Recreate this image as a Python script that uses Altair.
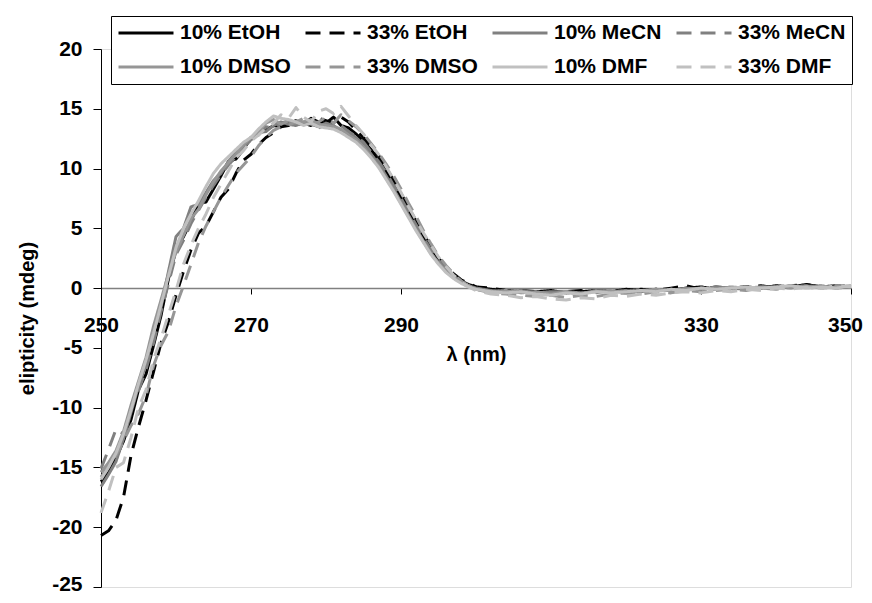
import altair as alt
import pandas as pd

# wavelengths: 1 nm steps 250-300, then 2 nm steps 302-350
wl = list(range(250, 301)) + list(range(302, 351, 2))

series_names = ["10% EtOH", "33% EtOH", "10% MeCN", "33% MeCN",
                "10% DMSO", "33% DMSO", "10% DMF", "33% DMF"]
series_colors = ["#000000", "#000000", "#808080", "#808080",
                 "#969696", "#969696", "#c0c0c0", "#c0c0c0"]
series_dash = [[1, 0], [15, 9], [1, 0], [15, 9], [1, 0], [15, 9], [1, 0], [15, 9]]

etoh10 = [-16.2, -15.4, -14.2, -12.8, -11.0, -8.5, -7.2, -4.8, -2.3, 0.8,
          3.2, 4.3, 5.6, 7.1, 7.2, 8.3, 9.4, 10.6, 10.8, 11.6,
          12.6, 13.0, 13.2, 13.6, 13.5, 13.8, 14.0, 13.7, 14.2, 13.9,
          13.8, 14.3, 13.6, 13.4, 12.9, 12.3, 11.6, 10.7, 9.8, 8.7,
          7.6, 6.4, 5.3, 4.2, 3.2, 2.3, 1.6, 1.0, 0.6, 0.3, 0.1,
          -0.1, -0.2, -0.3, -0.3, -0.2, -0.4, -0.3, -0.2, -0.3, -0.1,
          -0.2, -0.1, -0.2, 0.0, 0.1, -0.1, 0.0, 0.1, 0.0, 0.2,
          0.1, 0.3, 0.1, 0.2, 0.1]
etoh33 = [-20.7, -20.3, -19.4, -17.5, -14.0, -11.6, -9.4, -7.0, -4.6, -2.8,
          -0.6, 1.4, 3.2, 4.6, 5.2, 6.4, 7.6, 8.3, 9.6, 10.7,
          11.2, 12.0, 12.6, 13.0, 13.5, 13.6, 14.1, 13.8, 13.6, 14.2,
          14.0, 13.8, 14.3, 13.9, 13.2, 12.6, 11.9, 11.1, 10.1, 9.0,
          7.9, 6.8, 5.6, 4.5, 3.5, 2.5, 1.8, 1.2, 0.7, 0.4, 0.1,
          0.0, -0.2, -0.2, -0.3, -0.4, -0.3, -0.2, -0.3, -0.2, -0.2,
          -0.1, -0.2, 0.0, 0.2, -0.1, 0.1, 0.0, 0.1, 0.2, 0.0,
          0.2, 0.3, 0.1, 0.1, 0.2]
mecn10 = [-16.6, -15.6, -14.5, -12.6, -10.4, -8.2, -6.4, -3.5, -1.6, 1.4,
          4.3, 5.0, 6.8, 7.0, 8.0, 9.0, 9.6, 10.6, 11.4, 11.8,
          12.4, 13.0, 13.1, 13.6, 13.9, 13.7, 13.6, 13.9, 13.7, 13.5,
          13.8, 13.6, 13.2, 13.0, 12.6, 12.0, 11.2, 10.4, 9.4, 8.3,
          7.2, 6.1, 5.0, 3.9, 2.9, 2.1, 1.4, 0.9, 0.5, 0.2, 0.0,
          -0.2, -0.3, -0.2, -0.4, -0.3, -0.3, -0.5, -0.2, -0.3, -0.2,
          -0.3, -0.1, -0.2, 0.0, -0.1, 0.1, 0.0, -0.1, 0.1, 0.0,
          0.2, 0.1, 0.2, 0.0, 0.1]
mecn33 = [-15.1, -13.5, -11.8, -12.2, -10.0, -8.6, -6.8, -4.6, -2.0, 0.4,
          2.8, 4.0, 5.4, 6.5, 7.6, 8.6, 9.5, 10.3, 11.0, 11.8,
          12.4, 12.8, 13.5, 13.4, 13.8, 14.0, 13.6, 13.8, 14.0, 13.4,
          13.7, 13.5, 13.6, 13.1, 12.7, 12.2, 11.4, 10.6, 9.7, 8.6,
          7.5, 6.4, 5.3, 4.2, 3.2, 2.3, 1.6, 1.0, 0.6, 0.2, 0.0,
          -0.3, -0.4, -0.3, -0.5, -0.4, -0.3, -0.5, -0.4, -0.2, -0.3,
          -0.2, -0.3, -0.1, -0.2, 0.0, -0.1, 0.1, 0.0, 0.1, 0.1,
          0.0, 0.2, 0.1, 0.2, 0.1]
dmso10 = [-15.4, -14.6, -13.6, -12.0, -9.8, -7.8, -5.8, -3.2, -1.0, 1.2,
          3.0, 4.4, 5.8, 6.6, 7.8, 8.9, 9.8, 10.5, 11.2, 12.0,
          12.6, 13.1, 13.8, 14.1, 13.7, 14.0, 13.8, 13.9, 14.1, 13.7,
          13.6, 13.5, 13.3, 12.8, 12.4, 11.8, 11.0, 10.2, 9.2, 8.2,
          7.1, 6.0, 4.9, 3.9, 2.9, 2.1, 1.4, 0.9, 0.5, 0.2, -0.1,
          -0.3, -0.2, -0.4, -0.3, -0.5, -0.3, -0.4, -0.3, -0.2, -0.4,
          -0.2, -0.1, -0.2, -0.1, 0.0, -0.1, 0.1, 0.0, 0.1, 0.0,
          0.1, 0.2, 0.0, 0.1, 0.2]
dmso33 = [-15.8, -14.9, -14.0, -12.8, -11.5, -10.5, -9.0, -6.5, -4.8, -3.6,
          -1.5, 0.2, 2.0, 3.8, 5.2, 6.4, 7.6, 8.6, 9.6, 10.3,
          11.0, 11.9, 12.6, 13.2, 13.5, 13.6, 13.9, 14.2, 13.8, 13.9,
          14.3, 13.8, 14.5, 14.0, 13.5, 12.9, 12.1, 11.3, 10.4, 9.4,
          8.3, 7.1, 6.0, 4.8, 3.7, 2.7, 1.9, 1.2, 0.6, 0.2, -0.1,
          -0.4, -0.5, -0.6, -0.7, -0.6, -0.8, -0.6, -0.7, -0.5, -0.4,
          -0.5, -0.3, -0.4, -0.2, -0.3, -0.2, -0.1, -0.2, 0.0, -0.1,
          0.1, 0.0, 0.1, 0.2, 0.1]
dmf10 = [-16.0, -15.0, -13.8, -12.2, -10.2, -8.0, -6.0, -3.8, -1.4, 1.0,
         3.4, 5.0, 6.2, 7.3, 8.5, 9.6, 10.4, 11.0, 11.6, 12.2,
         12.6, 13.3, 13.9, 14.4, 14.2, 14.1, 13.9, 13.6, 13.8, 13.5,
         13.4, 13.3, 13.0, 12.6, 12.2, 11.6, 10.9, 10.1, 9.1, 8.1,
         7.0, 5.9, 4.8, 3.8, 2.8, 2.0, 1.3, 0.8, 0.4, 0.1, -0.1,
         -0.3, -0.4, -0.3, -0.5, -0.6, -0.4, -0.5, -0.3, -0.4, -0.3,
         -0.2, -0.3, -0.1, -0.2, 0.0, -0.1, 0.0, 0.1, 0.0, 0.1,
         0.2, 0.0, 0.1, 0.0, 0.2]
dmf33 = [-18.8, -17.0, -15.0, -14.6, -12.5, -10.0, -8.5, -6.0, -4.2, -2.2,
         -0.2, 2.0, 3.6, 5.0, 6.2, 7.6, 8.7, 9.8, 10.9, 11.5,
         12.3, 12.8, 13.4, 13.8, 14.5, 14.2, 15.1, 14.3, 13.9, 14.8,
         15.0, 14.6, 15.2, 14.4, 13.6, 12.9, 12.0, 11.2, 10.2, 9.1,
         8.0, 6.8, 5.7, 4.6, 3.6, 2.6, 1.8, 1.1, 0.5, 0.1, -0.2,
         -0.5, -0.6, -0.8, -0.7, -0.9, -1.0, -0.8, -0.9, -0.6, -0.7,
         -0.5, -0.6, -0.4, -0.3, -0.4, -0.2, -0.3, -0.1, -0.2, 0.0,
         -0.1, 0.1, 0.0, 0.2, 0.1]

series_values = [etoh10, etoh33, mecn10, mecn33, dmso10, dmso33, dmf10, dmf33]

x_ticks = [250, 270, 290, 310, 330, 350]
y_ticks = [-25, -20, -15, -10, -5, 0, 5, 10, 15, 20]

rows = []
for name, vals in zip(series_names, series_values):
    for w, v in zip(wl, vals):
        rows.append({"wl": w, "val": v, "series": name})
df = pd.DataFrame(rows)

FONT = "Liberation Sans"

chart = alt.Chart(df).mark_line(strokeWidth=3, strokeJoin="round").encode(
    x=alt.X("wl:Q",
            scale=alt.Scale(domain=[250, 350], nice=False, zero=False),
            axis=alt.Axis(values=x_ticks, offset=-299, tickSize=6, labelPadding=20,
                          domainColor="#808080", domainWidth=1.5, tickColor="#000000",
                          labelFlush=False, grid=False, title="λ (nm)",
                          labelOffset={"condition": {"test": "datum.value == 350", "value": -6},
                                       "value": 0},
                          titleY=72, titleBaseline="alphabetic",
                          labelFont=FONT, labelFontSize=21, labelFontWeight="bold",
                          labelColor="#000000", titleFont=FONT, titleFontSize=20,
                          titleFontWeight="bold", titleColor="#000000")),
    y=alt.Y("val:Q",
            scale=alt.Scale(domain=[-25, 20], nice=False, zero=False),
            axis=alt.Axis(values=y_ticks, tickSize=8, labelPadding=11,
                          domainColor="#000000", tickColor="#000000", grid=False,
                          labelExpr="'' + datum.value",
                          labelOffset={"condition": {"test": "datum.value == -25", "value": -3},
                                       "value": 0},
                          title="elipticity (mdeg)", titleX=-68,
                          titleBaseline="alphabetic",
                          labelFont=FONT, labelFontSize=21, labelFontWeight="bold",
                          labelColor="#000000", titleFont=FONT, titleFontSize=20,
                          titleFontWeight="bold", titleColor="#000000")),
    color=alt.Color("series:N",
                    scale=alt.Scale(domain=series_names, range=series_colors),
                    legend=alt.Legend(title=None, orient="none", legendX=10, legendY=-33,
                                      direction="horizontal",
                                      columns=4, strokeColor="#000000", fillColor="#ffffff",
                                      padding=6, symbolType="stroke", symbolSize=3025,
                                      symbolStrokeWidth=3, clipHeight=22, rowPadding=12,
                                      columnPadding=13, labelOffset=5,
                                      labelFont=FONT, labelFontSize=21,
                                      labelFontWeight="bold", labelColor="#000000")),
    strokeDash=alt.StrokeDash("series:N",
                              scale=alt.Scale(domain=series_names, range=series_dash),
                              legend=alt.Legend(title=None)),
    order=alt.Order("wl:Q"),
).properties(
    width=750,
    height=538,
    autosize=alt.AutoSizeParams(type="none"),
    padding={"left": 93, "top": 41, "right": 13, "bottom": 8},
).configure_view(stroke=None).configure(background="#ffffff")

chart.save("out.html", embed_options={"renderer": "svg", "actions": False})
